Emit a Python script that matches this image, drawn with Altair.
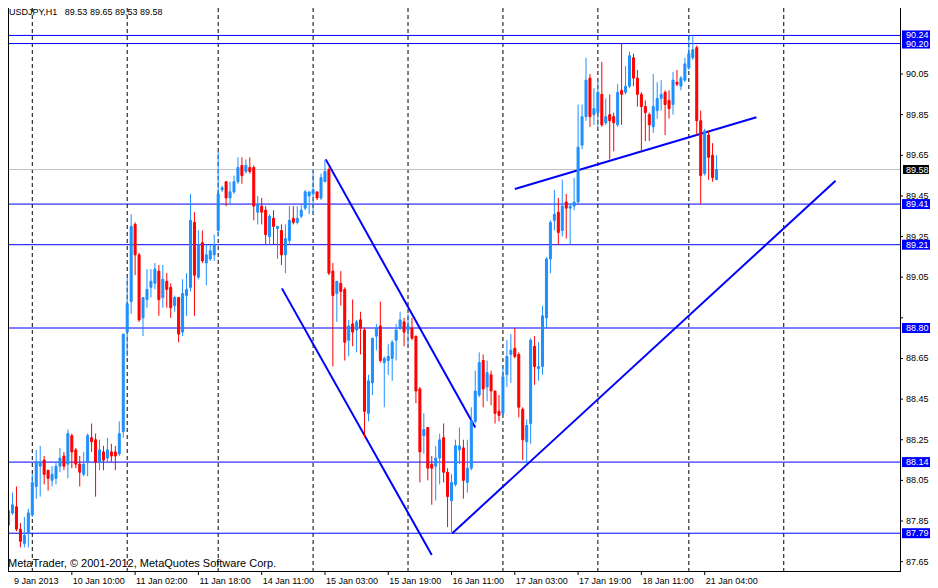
import altair as alt
import pandas as pd

# ---------------- data ----------------
OPEN = [87.83, 87.89, 87.92, 87.81, 87.74, 87.79, 87.88, 88.02, 88.12, 88.15,
        88.10, 88.05, 88.06, 88.12, 88.17, 88.13, 88.27, 88.20, 88.13, 88.08,
        88.14, 88.26, 88.25, 88.14, 88.19, 88.16, 88.19, 88.19, 88.18, 88.29,
        88.78, 88.93, 89.31, 89.16, 88.85, 88.94, 89.00, 89.02, 89.08, 88.95,
        89.03, 89.00, 88.91, 88.95, 88.78, 88.96, 89.00, 89.32, 89.05, 89.22,
        89.12, 89.14, 89.16, 89.28, 89.48, 89.52, 89.44, 89.47, 89.52, 89.60,
        89.57, 89.59, 89.59, 89.37, 89.40, 89.38, 89.25, 89.34, 89.29, 89.28,
        89.16, 89.23, 89.34, 89.32, 89.35, 89.39, 89.45, 89.46, 89.47, 89.44,
        89.52, 89.58, 89.08, 88.97, 89.02, 88.99, 88.74, 88.82, 88.79, 88.84,
        88.79, 88.38, 88.53, 88.76, 88.81, 88.63, 88.64, 88.65, 88.74, 88.80,
        88.83, 88.79, 88.80, 88.76, 88.50, 88.27, 88.31, 88.13, 88.12, 88.16,
        88.26, 88.09, 87.95, 88.03, 88.20, 88.21, 88.04, 88.11, 88.34, 88.47,
        88.64, 88.51, 88.57, 88.49, 88.39, 88.38, 88.57, 88.67, 88.70, 88.67,
        88.40, 88.24, 88.33, 88.71, 88.60, 88.61, 88.85, 89.14, 89.33, 89.37,
        89.28, 89.42, 89.39, 89.40, 89.42, 89.70, 89.84, 90.03, 89.85, 89.86,
        89.95, 89.81, 89.85, 89.84, 89.80, 89.97, 89.96, 89.99, 90.13, 90.03,
        89.95, 89.89, 89.85, 89.79, 89.87, 89.93, 89.96, 89.92, 89.90, 90.01,
        89.99, 90.02, 90.08, 90.13, 90.18, 89.82, 89.56, 89.75, 89.65, 89.53]
HIGH = [87.97, 87.99, 88.02, 87.84, 87.87, 87.91, 88.08, 88.20, 88.22, 88.17,
        88.10, 88.12, 88.14, 88.21, 88.19, 88.30, 88.28, 88.21, 88.17, 88.19,
        88.28, 88.33, 88.28, 88.25, 88.22, 88.26, 88.23, 88.22, 88.34, 88.77,
        89.05, 89.36, 89.32, 89.17, 88.95, 89.09, 89.09, 89.12, 89.11, 89.11,
        89.07, 89.02, 88.96, 88.95, 89.04, 89.07, 89.46, 89.37, 89.28, 89.28,
        89.21, 89.21, 89.26, 89.67, 89.50, 89.52, 89.52, 89.55, 89.64, 89.64,
        89.63, 89.64, 89.60, 89.45, 89.44, 89.40, 89.36, 89.38, 89.30, 89.31,
        89.31, 89.40, 89.40, 89.40, 89.41, 89.48, 89.47, 89.58, 89.47, 89.56,
        89.63, 89.59, 89.12, 89.03, 89.08, 89.00, 88.84, 88.94, 88.84, 88.88,
        88.80, 88.57, 88.75, 88.82, 88.93, 88.66, 88.72, 88.74, 88.82, 88.88,
        88.85, 88.87, 88.85, 88.76, 88.51, 88.38, 88.31, 88.17, 88.22, 88.28,
        88.33, 88.11, 88.08, 88.25, 88.31, 88.25, 88.25, 88.41, 88.59, 88.68,
        88.67, 88.64, 88.59, 88.49, 88.47, 88.61, 88.74, 88.77, 88.80, 88.68,
        88.41, 88.35, 88.75, 88.76, 88.73, 88.91, 89.15, 89.33, 89.48, 89.44,
        89.53, 89.46, 89.41, 89.54, 89.90, 89.90, 90.13, 90.05, 89.98, 90.02,
        90.11, 89.93, 89.95, 89.86, 90.00, 90.20, 90.09, 90.16, 90.15, 90.07,
        89.96, 89.92, 89.86, 90.05, 90.01, 90.02, 89.97, 89.97, 90.06, 90.07,
        90.04, 90.13, 90.24, 90.24, 90.19, 89.87, 89.78, 89.77, 89.71, 89.65]
LOW = [87.79, 87.88, 87.80, 87.72, 87.72, 87.72, 87.87, 87.96, 87.97, 88.03,
       88.00, 88.02, 88.03, 88.09, 88.10, 88.06, 88.11, 88.11, 88.02, 88.07,
       88.07, 88.19, 87.97, 88.10, 88.10, 88.14, 88.14, 88.10, 88.17, 88.26,
       88.66, 88.87, 89.06, 88.83, 88.76, 88.90, 88.95, 88.99, 88.86, 88.90,
       88.90, 88.85, 88.88, 88.73, 88.76, 88.86, 88.98, 88.86, 89.04, 89.12,
       89.01, 89.13, 89.13, 89.25, 89.47, 89.40, 89.41, 89.46, 89.51, 89.51,
       89.56, 89.56, 89.33, 89.31, 89.31, 89.21, 89.21, 89.21, 89.14, 89.11,
       89.07, 89.21, 89.31, 89.31, 89.34, 89.38, 89.36, 89.36, 89.43, 89.43,
       89.52, 89.06, 88.61, 88.83, 88.91, 88.64, 88.66, 88.71, 88.68, 88.67,
       88.26, 88.34, 88.47, 88.69, 88.63, 88.41, 88.57, 88.54, 88.64, 88.79,
       88.71, 88.71, 88.74, 88.43, 88.04, 88.18, 88.05, 87.93, 87.95, 88.03,
       88.04, 87.82, 87.79, 88.02, 88.13, 87.96, 87.99, 88.10, 88.33, 88.46,
       88.41, 88.44, 88.42, 88.33, 88.34, 88.37, 88.51, 88.53, 88.65, 88.36,
       88.15, 88.13, 88.23, 88.52, 88.54, 88.57, 88.80, 89.07, 89.28, 89.21,
       89.25, 89.24, 89.21, 89.38, 89.41, 89.68, 89.82, 89.79, 89.80, 89.79,
       89.79, 89.80, 89.63, 89.67, 89.79, 89.80, 89.95, 89.98, 89.99, 89.89,
       89.67, 89.72, 89.72, 89.76, 89.83, 89.87, 89.75, 89.83, 89.85, 89.99,
       89.97, 90.01, 90.07, 90.12, 89.75, 89.41, 89.55, 89.53, 89.52, 89.53]
CLOSE = [87.90, 87.93, 87.81, 87.75, 87.78, 87.89, 88.04, 88.14, 88.14, 88.08,
         88.06, 88.08, 88.12, 88.16, 88.12, 88.28, 88.19, 88.13, 88.09, 88.13,
         88.27, 88.24, 88.14, 88.20, 88.15, 88.20, 88.17, 88.17, 88.28, 88.77,
         88.92, 89.30, 89.16, 88.84, 88.95, 88.99, 89.03, 89.09, 88.94, 89.04,
         88.99, 88.90, 88.95, 88.77, 88.97, 88.99, 89.33, 89.06, 89.21, 89.13,
         89.16, 89.18, 89.21, 89.46, 89.49, 89.44, 89.47, 89.52, 89.59, 89.55,
         89.60, 89.57, 89.40, 89.41, 89.37, 89.26, 89.35, 89.30, 89.30, 89.16,
         89.24, 89.33, 89.32, 89.34, 89.38, 89.47, 89.47, 89.48, 89.44, 89.54,
         89.57, 89.07, 88.96, 89.03, 88.98, 88.73, 88.81, 88.78, 88.83, 88.80,
         88.39, 88.54, 88.75, 88.80, 88.64, 88.65, 88.66, 88.73, 88.79, 88.84,
         88.78, 88.81, 88.75, 88.49, 88.19, 88.30, 88.11, 88.11, 88.16, 88.25,
         88.09, 87.97, 88.04, 88.22, 88.22, 88.05, 88.11, 88.34, 88.49, 88.63,
         88.50, 88.58, 88.49, 88.38, 88.37, 88.56, 88.66, 88.69, 88.66, 88.41,
         88.25, 88.32, 88.74, 88.61, 88.61, 88.86, 89.14, 89.32, 89.36, 89.27,
         89.40, 89.39, 89.40, 89.42, 89.69, 89.84, 90.02, 89.84, 89.88, 89.96,
         89.80, 89.84, 89.82, 89.81, 89.96, 89.95, 89.99, 90.14, 90.03, 89.95,
         89.89, 89.86, 89.80, 89.89, 89.93, 89.95, 89.90, 89.88, 90.02, 90.00,
         90.03, 90.10, 90.15, 90.17, 89.82, 89.55, 89.77, 89.64, 89.54, 89.58]

DATE_LABELS = ["9 Jan 2013", "10 Jan 10:00", "11 Jan 02:00", "11 Jan 18:00",
               "14 Jan 11:00", "15 Jan 03:00", "15 Jan 19:00", "16 Jan 11:00",
               "17 Jan 03:00", "17 Jan 19:00", "18 Jan 11:00", "21 Jan 04:00"]
DATE_BARS = [0, 16, 32, 48, 64, 80, 96, 112, 128, 144, 160, 176]
GRID_BARS = [6, 30, 53, 77, 101, 125, 149, 172, 196]

LEVELS = [90.24, 90.20, 89.41, 89.21, 88.80, 88.14, 87.79]
CURRENT = 89.58
Y_TICKS = [87.65, 87.85, 88.05, 88.25, 88.45, 88.65, 88.85,
           89.05, 89.25, 89.45, 89.65, 89.85, 90.05]
Y_HIDDEN_LABELS = [88.85]   # covered by the 88.80 price label in the picture

TREND_ID = ["a", "a", "b", "b", "c", "c", "d", "d"]
TREND_BAR = [80.2, 118.0, 69.1, 107.0, 112.2, 209.1, 128.0, 189.1]
TREND_PRICE = [89.63, 88.31, 88.995, 87.683, 87.79, 89.525, 89.484, 89.837]

HEADER = "USDJPY,H1\u00a0\u00a0\u00a089.53 89.65 89.53 89.58"
COPYRIGHT = "MetaTrader, \u00a9 2001-2012, MetaQuotes Software Corp."

# ---------------- layout / style ----------------
W, H = 892, 563
XMIN, XMAX = 1.125, 224.125
YMIN, YMAX = 87.604, 90.375
FONT = "Liberation Sans"
UP, DOWN = "#1E90FF", "#FF0000"
LINE_BLUE = "#0000FF"

xs = alt.Scale(domain=[XMIN, XMAX], nice=False, zero=False)
ys = alt.Scale(domain=[YMIN, YMAX], nice=False, zero=False)
cs = alt.Scale(domain=["up", "down"], range=[UP, DOWN])

candles = pd.DataFrame({"bar": list(range(len(OPEN))), "open": OPEN,
                        "high": HIGH, "low": LOW, "close": CLOSE})
candles["dir"] = ["up" if c >= o else "down" for o, c in zip(OPEN, CLOSE)]

grid_df = pd.DataFrame({"bar": GRID_BARS})
levels_df = pd.DataFrame({"price": LEVELS, "label": [f"{v:.2f}" for v in LEVELS]})
current_df = pd.DataFrame({"price": [CURRENT], "label": [f"{CURRENT:.2f}"]})
trend_df = pd.DataFrame({"id": TREND_ID, "bar": TREND_BAR, "price": TREND_PRICE})
yticks_df = pd.DataFrame({"price": Y_TICKS})
ylab_vals = [v for v in Y_TICKS if v not in Y_HIDDEN_LABELS]
ylabels_df = pd.DataFrame({"price": ylab_vals, "label": [f"{v:.2f}" for v in ylab_vals]})
dates_df = pd.DataFrame({"bar": [max(b, XMIN) for b in DATE_BARS], "label": DATE_LABELS})
xticks_df = pd.DataFrame({"bar": [b for b in DATE_BARS if b >= XMIN]})
one = pd.DataFrame({"k": [0]})

X = lambda f="bar:Q": alt.X(f, scale=xs, axis=None)
Y = lambda f="price:Q": alt.Y(f, scale=ys, axis=None)

grid = alt.Chart(grid_df).mark_rule(color="black", strokeWidth=1, strokeDash=[4, 3], clip=True).encode(
    x=X(), y=alt.value(0), y2=alt.value(H))

frame_left = alt.Chart(one).mark_rule(color="black", strokeWidth=1).encode(
    x=alt.value(0.5), y=alt.value(0), y2=alt.value(H))
frame_right = alt.Chart(one).mark_rule(color="black", strokeWidth=1).encode(
    x=alt.value(W + 0.5), y=alt.value(0), y2=alt.value(H + 1))
frame_bottom = alt.Chart(one).mark_rule(color="black", strokeWidth=1).encode(
    x=alt.value(0), x2=alt.value(W + 1), y=alt.value(H + 0.5))

xticks = alt.Chart(xticks_df).mark_rule(color="black", strokeWidth=1).encode(
    x=X(), y=alt.value(H), y2=alt.value(H + 4))
yticks = alt.Chart(yticks_df).mark_rule(color="black", strokeWidth=1).encode(
    x=alt.value(W), x2=alt.value(W + 3), y=Y())
ylabels = alt.Chart(ylabels_df).mark_text(align="left", baseline="middle", color="black",
                                          font=FONT, fontSize=9).encode(
    x=alt.value(W + 6), y=Y(), text="label:N")

cur_line = alt.Chart(current_df).mark_rule(color="#C0C0C0", strokeWidth=1).encode(
    x=alt.value(0), x2=alt.value(W), y=Y())
level_lines = alt.Chart(levels_df).mark_rule(color=LINE_BLUE, strokeWidth=1).encode(
    x=alt.value(0), x2=alt.value(W), y=Y())

wicks = alt.Chart(candles).mark_rule(strokeWidth=1, clip=True).encode(
    x=X(), y=Y("low:Q"), y2="high:Q",
    color=alt.Color("dir:N", scale=cs, legend=None))
bodies = alt.Chart(candles).mark_bar(width=2, strokeWidth=1, clip=True).encode(
    x=X(), y=Y("open:Q"), y2="close:Q",
    color=alt.Color("dir:N", scale=cs, legend=None),
    stroke=alt.Stroke("dir:N", scale=cs, legend=None))

trends = alt.Chart(trend_df).mark_line(color=LINE_BLUE, strokeWidth=2, clip=True).encode(
    x=X(), y=Y(), detail="id:N")

level_boxes = alt.Chart(levels_df).mark_rule(color=LINE_BLUE, strokeWidth=10, strokeCap="butt").encode(
    x=alt.value(W + 2), x2=alt.value(W + 30), y=Y())
level_text = alt.Chart(levels_df).mark_text(align="left", baseline="middle", color="white",
                                            font=FONT, fontSize=9).encode(
    x=alt.value(W + 6), y=Y(), text="label:N")
cur_box = alt.Chart(current_df).mark_rule(color="black", strokeWidth=9, strokeCap="butt").encode(
    x=alt.value(W + 3), x2=alt.value(W + 29), y=Y())
cur_text = alt.Chart(current_df).mark_text(align="left", baseline="middle", color="white",
                                           font=FONT, fontSize=9).encode(
    x=alt.value(W + 6), y=Y(), text="label:N")

dates = alt.Chart(dates_df).mark_text(align="left", baseline="alphabetic", color="black",
                                      font=FONT, fontSize=9, dx=1).encode(
    x=X(), y=alt.value(H + 13), text="label:N")

header = alt.Chart(pd.DataFrame({"t": [HEADER]})).mark_text(
    align="left", baseline="top", color="black", font=FONT, fontSize=9).encode(
    x=alt.value(1), y=alt.value(0), text="t:N")
copyright_ = alt.Chart(pd.DataFrame({"t": [COPYRIGHT]})).mark_text(
    align="left", baseline="alphabetic", color="black", font=FONT, fontSize=11).encode(
    x=alt.value(0), y=alt.value(H - 4), text="t:N")

chart = alt.layer(
    grid, cur_line, level_lines, trends, wicks, bodies,
    frame_left, frame_right, frame_bottom, xticks, yticks, ylabels,
    level_boxes, level_text, cur_box, cur_text, dates, header, copyright_
).properties(
    width=W, height=H, background="white",
    padding={"left": 0, "top": 0, "right": 30, "bottom": 16},
    autosize=alt.AutoSizeParams(type="none"),
).configure_view(stroke=None)

chart.save("out.html", embed_options={"renderer": "svg", "actions": False})
